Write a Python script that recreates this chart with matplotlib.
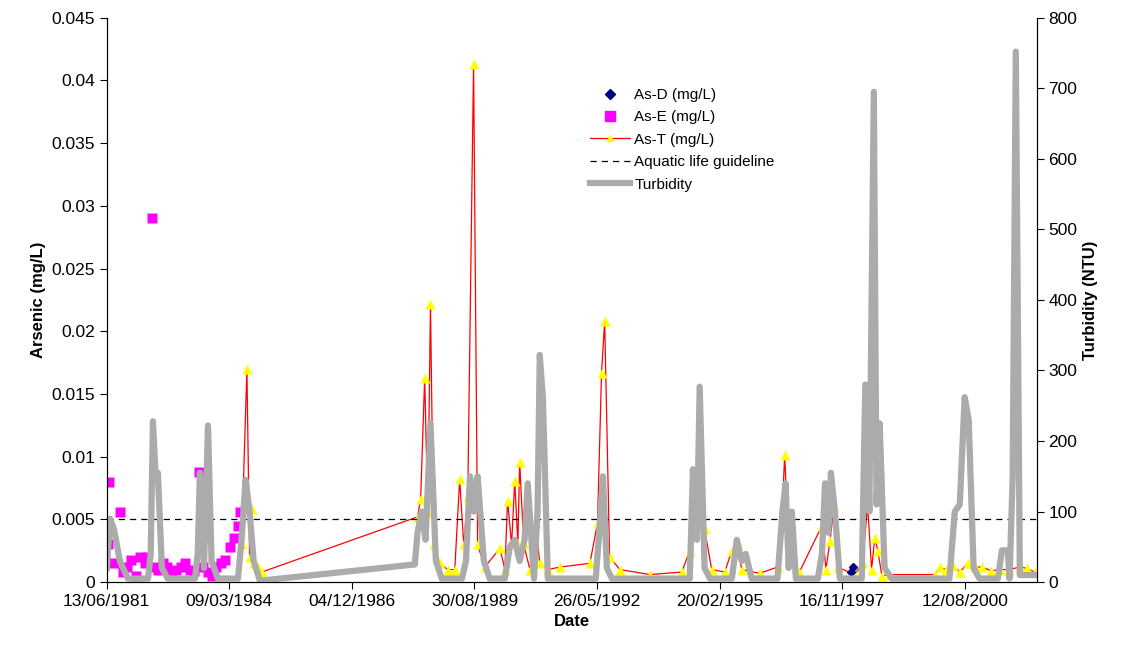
import datetime as dt
import numpy as np
import matplotlib
matplotlib.use("Agg")
import matplotlib.pyplot as plt
import matplotlib.dates as mdates
from matplotlib.lines import Line2D

plt.rcParams['font.family'] = ['Liberation Sans', 'DejaVu Sans']

# dates as decimal years
turb_years = [1981.45, 1981.52, 1981.61, 1981.74, 1981.92, 1982.37, 1982.43, 1982.48, 1982.54, 1982.59,
              1982.68, 1982.81, 1983.42, 1983.48, 1983.53, 1983.62, 1983.71, 1983.79, 1983.93, 1984.38,
              1984.46, 1984.55, 1984.64, 1984.73, 1984.87, 1988.33, 1988.39, 1988.48, 1988.57, 1988.68,
              1988.80, 1988.93, 1989.38, 1989.47, 1989.56, 1989.65, 1989.73, 1989.87, 1990.00, 1990.34,
              1990.45, 1990.56, 1990.67, 1990.78, 1990.85, 1990.99, 1991.07, 1991.12, 1991.19, 1991.30,
              1992.37, 1992.46, 1992.53, 1992.62, 1992.73, 1994.47, 1994.54, 1994.63, 1994.69, 1994.80,
              1994.92, 1995.41, 1995.52, 1995.63, 1995.72, 1995.85, 1996.43, 1996.54, 1996.61, 1996.68,
              1996.75, 1996.84, 1997.33, 1997.42, 1997.49, 1997.56, 1997.62, 1997.71, 1997.82, 1998.31,
              1998.39, 1998.48, 1998.58, 1998.64, 1998.71, 1998.82, 1998.98, 2000.27, 2000.39, 2000.50,
              2000.61, 2000.70, 2000.81, 2000.94, 2001.35, 2001.44, 2001.57, 2001.61, 2001.68, 2001.75,
              2001.84, 2002.17]
turb_vals = [20, 90, 75, 30, 5, 5, 40, 228, 150, 155,
             20, 5, 5, 40, 155, 20, 222, 30, 5, 5,
             60, 145, 100, 30, 2, 25, 70, 100, 60, 225,
             30, 5, 5, 30, 150, 100, 150, 30, 5, 5,
             50, 60, 30, 60, 140, 5, 100, 322, 260, 5,
             5, 80, 150, 20, 5, 5, 160, 60, 277, 20,
             5, 5, 60, 30, 40, 5, 5, 100, 140, 20,
             100, 5, 5, 40, 140, 70, 155, 100, 5, 5,
             280, 100, 695, 110, 225, 20, 5, 5, 100, 110,
             262, 230, 20, 5, 5, 45, 45, 5, 150, 752,
             10, 10]

ast_years = [1984.46, 1984.58, 1984.64, 1984.69, 1984.73, 1984.82, 1984.91, 1988.39, 1988.46, 1988.55,
             1988.62, 1988.68, 1988.75, 1988.89, 1989.06, 1989.22, 1989.33, 1989.42, 1989.51, 1989.64,
             1989.73, 1989.89, 1990.23, 1990.34, 1990.40, 1990.49, 1990.56, 1990.63, 1990.67, 1990.76,
             1990.90, 1991.03, 1991.12, 1991.30, 1991.57, 1992.24, 1992.41, 1992.50, 1992.57, 1992.68,
             1992.91, 1993.58, 1994.29, 1994.47, 1994.58, 1994.69, 1994.80, 1994.96, 1995.25, 1995.41,
             1995.52, 1995.63, 1996.03, 1996.43, 1996.52, 1996.59, 1996.70, 1996.92, 1997.42, 1997.51,
             1997.60, 1997.69, 1997.77, 1998.15, 1998.33, 1998.44, 1998.53, 1998.60, 1998.67, 1998.76,
             1998.93, 1999.94, 2000.05, 2000.20, 2000.35, 2000.50, 2000.68, 2000.83, 2001.00, 2001.20,
             2001.39, 2001.60, 2001.84, 2002.00, 2002.17]
ast_vals = [0.003, 0.017, 0.002, 0.0058, 0.0015, 0.0012, 0.0008, 0.0052, 0.0066, 0.0163,
            0.0055, 0.0222, 0.003, 0.0015, 0.001, 0.001, 0.0082, 0.003, 0.0068, 0.0413,
            0.003, 0.0012, 0.0027, 0.001, 0.0065, 0.003, 0.0081, 0.003, 0.0096, 0.003,
            0.001, 0.0047, 0.0015, 0.001, 0.0012, 0.0015, 0.0047, 0.0167, 0.0208, 0.002,
            0.001, 0.0006, 0.0008, 0.0025, 0.005, 0.0045, 0.0042, 0.001, 0.0008, 0.0025,
            0.0033, 0.001, 0.0007, 0.0012, 0.0045, 0.0101, 0.0015, 0.0008, 0.0045, 0.001,
            0.0033, 0.006, 0.0012, 0.0006, 0.0015, 0.0062, 0.001, 0.0035, 0.0025, 0.0005,
            0.0006, 0.0006, 0.0012, 0.001, 0.0013, 0.0008, 0.0015, 0.0012, 0.0012, 0.0009,
            0.001, 0.001, 0.0012, 0.0011, 0.0008]

ase_years = [1981.47, 1981.5, 1981.6, 1981.75, 1981.8, 1981.9, 1982.0, 1982.1, 1982.2, 1982.3,
             1982.35, 1982.45, 1982.5, 1982.6, 1982.7, 1982.8, 1982.9, 1983.0, 1983.1, 1983.2,
             1983.3, 1983.4, 1983.5, 1983.6, 1983.7, 1983.8, 1983.9, 1984.0, 1984.1, 1984.2,
             1984.3, 1984.38, 1984.42]
ase_vals = [0.003, 0.008, 0.0015, 0.0056, 0.0008, 0.0012, 0.0018, 0.0005, 0.002, 0.0015,
            0.002, 0.029, 0.0012, 0.001, 0.0015, 0.0012, 0.0008, 0.001, 0.0012, 0.0015,
            0.001, 0.0009, 0.0088, 0.0012, 0.0008, 0.0005, 0.0012, 0.0015, 0.0018, 0.0028,
            0.0035, 0.0045, 0.0056]

asd_years = [1998.08, 1998.12]
asd_vals = [0.0008, 0.0012]

guideline = 0.005


def to_date(y):
    year = int(y)
    start = dt.datetime(year, 1, 1)
    return start + dt.timedelta(days=(y - year) * 365.25)


fig = plt.figure(figsize=(11.23, 6.57), dpi=100)
ax = fig.add_axes([0.095, 0.114, 0.828, 0.859])
ax2 = ax.twinx()

ax.plot([to_date(y) for y in ase_years], ase_vals, 's', color='#FF00FF', ms=7, mec='none')
ax.plot([to_date(y) for y in ast_years], ast_vals, '-', color='red', lw=0.9)
ax.plot([to_date(y) for y in ast_years], ast_vals, '^', color='yellow', ms=7, mec='none')
ax.plot([to_date(y) for y in asd_years], asd_vals, 'D', color='#000080', ms=4)
ax.axhline(guideline, color='black', ls=(0, (5, 4)), lw=0.9)
ax2.plot([to_date(y) for y in turb_years], turb_vals, '-', color='#ABABAB', lw=4.5)

x0 = dt.datetime(1981, 6, 13)
ax.set_xlim(x0, x0 + dt.timedelta(days=7585))
ax.set_ylim(0, 0.045)
ax2.set_ylim(0, 800)
ax.set_xticks([x0 + dt.timedelta(days=1000 * i) for i in range(8)])
ax.xaxis.set_major_formatter(mdates.DateFormatter('%d/%m/%Y'))
ax.set_yticks(np.arange(0, 0.0451, 0.005))
ax.set_yticklabels(['0'] + ['%g' % v for v in np.arange(0.005, 0.0451, 0.005)])
ax2.set_yticks(range(0, 801, 100))

for a in (ax, ax2):
    a.tick_params(labelsize=12.5, length=5)
    a.spines['top'].set_visible(False)
ax.set_xlabel('Date', fontsize=12, fontweight='bold')
ax.set_ylabel('Arsenic (mg/L)', fontsize=12, fontweight='bold')
ax2.set_ylabel('Turbidity (NTU)', fontsize=12, fontweight='bold')

handles = [
    Line2D([], [], marker='D', color='#000080', ls='none', ms=5),
    Line2D([], [], marker='s', color='#FF00FF', ls='none', ms=7),
    Line2D([], [], marker='^', color='red', mfc='yellow', mec='yellow', lw=0.9, ms=5),
    Line2D([], [], color='black', ls=(0, (5, 4)), lw=0.9),
    Line2D([], [], color='#ABABAB', lw=4.5),
]
labels = ['As-D (mg/L)', 'As-E (mg/L)', 'As-T (mg/L)', 'Aquatic life guideline', 'Turbidity']
ax2.legend(handles, labels, loc='upper left', bbox_to_anchor=(0.505, 0.9), frameon=False,
           fontsize=11, handlelength=2.6, handletextpad=0.3, labelspacing=0.55)

fig.savefig('out.png', dpi=100)
